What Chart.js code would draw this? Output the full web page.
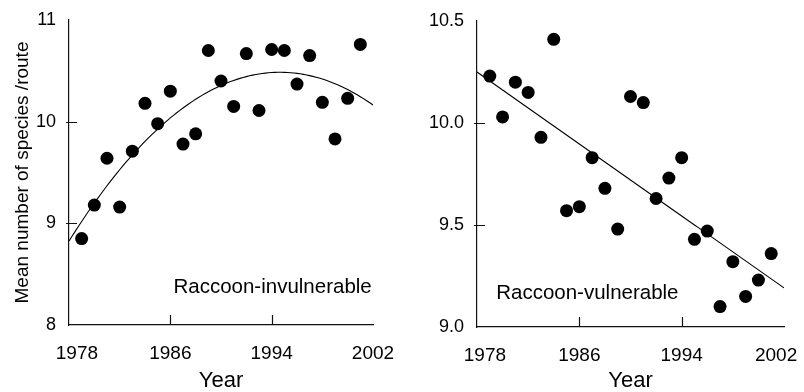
<!DOCTYPE html>
<html>
<head>
<meta charset="utf-8">
<script src="https://cdn.jsdelivr.net/npm/chart.js@4.4.1/dist/chart.umd.min.js"></script>
<style>
  html, body { margin: 0; padding: 0; background: #fff; }
  #wrap { position: relative; width: 804px; height: 392px; }
  canvas { position: absolute; top: 0; }
  #left { left: 0; }
  #right { left: 400px; }
</style>
</head>
<body>
<div id="wrap">
  <canvas id="left" width="400" height="392"></canvas>
  <canvas id="right" width="404" height="392"></canvas>
</div>
<script>
// Data
const years = [1979, 1980, 1981, 1982, 1983, 1984, 1985, 1986, 1987, 1988, 1989, 1990,
               1991, 1992, 1993, 1994, 1995, 1996, 1997, 1998, 1999, 2000, 2001];
const invulnerable = [8.85, 9.18, 9.64, 9.16, 9.71, 10.18, 9.98, 10.30, 9.78, 9.88, 10.70, 10.40,
                      10.15, 10.67, 10.11, 10.71, 10.70, 10.37, 10.65, 10.19, 9.83, 10.23, 10.76];
const vulnerable = [10.23, 10.03, 10.20, 10.15, 9.93, 10.41, 9.57, 9.59, 9.83, 9.68, 9.48, 10.13,
                    10.10, 9.63, 9.73, 9.83, 9.43, 9.47, 9.10, 9.32, 9.15, 9.23, 9.36];
const yearTicks = [1978, 1986, 1994, 2002];
const leftTicks = [8, 9, 10, 11];
const rightTicks = [9.0, 9.5, 10.0, 10.5];

const FONT = "'Liberation Sans', Arial, Helvetica, sans-serif";

// least squares polynomial fit (degree 1 or 2), x centred for stability
function polyFit(xs, ys, deg) {
  const x0 = xs.reduce((a, b) => a + b, 0) / xs.length;
  const n = deg + 1;
  const A = [], B = [];
  for (let i = 0; i < n; i++) {
    A.push(new Array(n).fill(0));
    B.push(0);
  }
  xs.forEach((x, k) => {
    const t = x - x0;
    for (let i = 0; i < n; i++) {
      for (let j = 0; j < n; j++) A[i][j] += Math.pow(t, i + j);
      B[i] += ys[k] * Math.pow(t, i);
    }
  });
  // gaussian elimination
  for (let i = 0; i < n; i++) {
    for (let r = i + 1; r < n; r++) {
      const f = A[r][i] / A[i][i];
      for (let c = i; c < n; c++) A[r][c] -= f * A[i][c];
      B[r] -= f * B[i];
    }
  }
  const coef = new Array(n).fill(0);
  for (let i = n - 1; i >= 0; i--) {
    let s = B[i];
    for (let c = i + 1; c < n; c++) s -= A[i][c] * coef[c];
    coef[i] = s / A[i][i];
  }
  return x => coef.reduce((s, c, i) => s + c * Math.pow(x - x0, i), 0);
}

function fitLine(fn, from, to, step) {
  const pts = [];
  for (let x = from; x <= to + 1e-9; x += step) pts.push({ x: x, y: fn(x) });
  return pts;
}

function pairs(xs, ys) {
  return xs.map((x, i) => ({ x: x, y: ys[i] }));
}

// inward tick marks + panel label
const decor = {
  id: 'decor',
  afterDatasetsDraw(chart, args, opts) {
    const ctx = chart.ctx;
    const xs = chart.scales.x, ys = chart.scales.y;
    ctx.save();
    ctx.strokeStyle = '#111';
    ctx.lineWidth = 1.2;
    ctx.beginPath();
    xs.ticks.forEach(t => {
      if (t.value === xs.min || t.value === xs.max) return;
      const px = Math.round(xs.getPixelForValue(t.value)) + 0.5;
      ctx.moveTo(px, ys.bottom);
      ctx.lineTo(px, ys.bottom - 10);
    });
    ys.ticks.forEach(t => {
      if (t.value === ys.min || t.value === ys.max) return;
      const py = Math.round(ys.getPixelForValue(t.value)) + 0.5;
      ctx.moveTo(xs.left - 3, py);
      ctx.lineTo(xs.left + 8, py);
    });
    ctx.stroke();

    ctx.fillStyle = '#000';
    ctx.font = '20.5px ' + FONT;
    ctx.textAlign = opts.align;
    ctx.textBaseline = 'middle';
    ctx.fillText(opts.text, xs.getPixelForValue(opts.at[0]), ys.getPixelForValue(opts.at[1]));
    ctx.restore();
  }
};

function makeChart(id, values, fitDeg, yMin, yMax, yStep, yTicks, opt) {
  const fn = polyFit(years, values, fitDeg);
  return new Chart(document.getElementById(id), {
    type: 'scatter',
    data: {
      datasets: [
        {
          data: pairs(years, values),
          pointRadius: 6.5,
          pointHoverRadius: 6.5,
          pointBackgroundColor: '#000',
          pointBorderWidth: 0,
          showLine: false
        },
        {
          data: fitLine(fn, 1978, 2002, 0.25),
          showLine: true,
          borderColor: '#000',
          borderWidth: 1.1,
          pointRadius: 0,
          tension: 0
        }
      ]
    },
    options: {
      responsive: false,
      animation: false,
      devicePixelRatio: 1,
      layout: { padding: opt.padding },
      plugins: {
        legend: { display: false },
        tooltip: { enabled: false },
        decor: opt.label
      },
      scales: {
        x: {
          type: 'linear',
          min: 1978,
          max: 2002,
          afterBuildTicks: s => { s.ticks = yearTicks.map(v => ({ value: v })); },
          afterFit: s => {
            s.height = opt.xHeight;
            s.paddingLeft = 0;
            s.paddingRight = 0;
          },
          grid: { display: false },
          border: { display: true, color: '#111', width: 1.2 },
          ticks: {
            color: '#000',
            font: { family: FONT, size: 19 },
            padding: 9,
            maxRotation: 0,
            autoSkip: false,
            // nudge end labels like the printed figure
            callback: v => v === 1978 ? '   ' + v : (v === 2002 && opt.endNudge ? v + '   ' : String(v))
          },
          title: {
            display: true,
            text: 'Year',
            color: '#000',
            font: { family: FONT, size: 22, lineHeight: 1 },
            padding: 0
          }
        },
        y: {
          type: 'linear',
          min: yMin,
          max: yMax,
          afterBuildTicks: s => { s.ticks = yTicks.map(v => ({ value: v })); },
          afterFit: s => { s.width = opt.yWidth; },
          grid: { display: false },
          border: { display: true, color: '#111', width: 1.2 },
          ticks: {
            color: '#000',
            font: { family: FONT, size: 18 },
            padding: 5,
            callback: v => yStep < 1 ? v.toFixed(1) : String(v)
          },
          title: {
            display: opt.yTitle,
            text: 'Mean number of species /route',
            color: '#000',
            font: { family: FONT, size: 19, lineHeight: 1 },
            padding: { top: 13, bottom: 0 }
          }
        }
      }
    },
    plugins: [decor]
  });
}

makeChart('left', invulnerable, 2, 8, 11, 1, leftTicks, {
  padding: { top: 20, right: 27, left: 0, bottom: 0 },
  xHeight: 67,
  yWidth: 69,
  yTitle: true,
  endNudge: false,
  label: { text: 'Raccoon-invulnerable', align: 'right', at: [2001.9, 8.37] }
});

makeChart('right', vulnerable, 1, 9, 10.5, 0.5, rightTicks, {
  padding: { top: 21, right: 20, left: 0, bottom: 0 },
  xHeight: 65,
  yWidth: 77,
  yTitle: false,
  endNudge: true,
  label: { text: 'Raccoon-vulnerable', align: 'left', at: [1979.5, 9.165] }
});
</script>
</body>
</html>
